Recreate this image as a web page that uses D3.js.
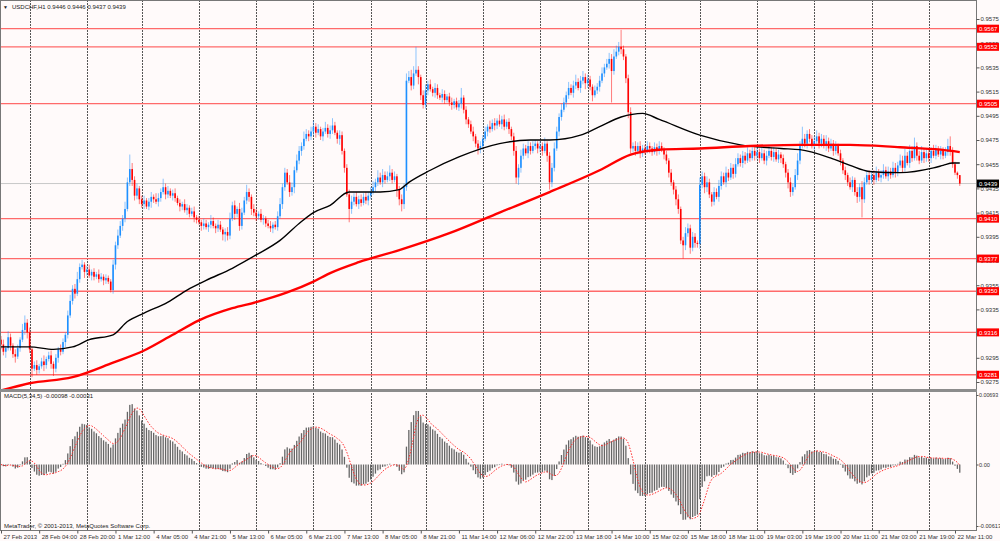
<!DOCTYPE html>
<html>
<head>
<meta charset="utf-8">
<script src="https://cdn.jsdelivr.net/npm/d3@7"></script>
<style>
body { margin: 0; background: #fff; }
text { font-family: "Liberation Sans", Arial, sans-serif; }
</style>
</head>
<body>
<svg id="chart" width="1000" height="541"></svg>
<script>
// USDCHF H1, closes in pips above 0.9000, one row per trading day
const closes = [
  306,300,303,312,305,298,296,303,310,318,324,316,                                  // 27 Feb
  302,286,289,285,288,292,289,294,297,290,286,295,302,300,308,314,330,342,352,348,360,370,372,366, // 28 Feb
  368,363,366,362,364,360,362,359,361,358,351,372,388,396,404,410,418,440,451,442,429,435,426,     // 1 Mar
  422,425,420,424,428,426,424,427,432,436,430,433,429,431,427,423,420,422,417,419,414,416,411,409, // 4 Mar
  407,404,406,403,405,408,404,402,405,401,397,399,396,410,421,414,418,404,415,425,432,428,418,415, // 5 Mar
  412,414,409,410,406,404,402,405,403,412,422,436,448,440,432,436,450,458,466,470,476,480,478,482, // 6 Mar
  486,481,484,478,482,485,480,483,487,481,476,479,466,452,430,418,424,428,422,426,423,428,425,429, // 7 Mar
  432,436,440,444,440,446,442,445,448,442,445,434,426,422,436,524,527,520,530,533,527,512,504,     // 8 Mar
  516,521,517,514,518,512,510,513,508,511,506,504,507,502,505,510,500,492,488,482,478,472,468,470, // 11 Mar
  476,482,486,484,489,487,491,488,492,486,490,484,478,466,444,452,462,468,464,470,466,470,472,468, // 12 Mar
  470,466,472,462,440,452,468,482,494,500,506,512,518,514,520,523,518,524,527,522,                 // 13 Mar
  525,519,512,516,519,524,530,535,538,542,532,544,548,552,550,544,526,498,468,470,466,470,464,468, // 14 Mar
  466,470,468,465,469,466,470,467,463,458,448,440,434,426,418,392,388,398,402,386,395,390,389,     // 15 Mar
  438,445,436,440,430,424,432,428,437,445,440,448,444,452,447,455,460,456,462,458,464,460,466,462, // 18 Mar
  465,460,464,458,462,466,461,465,459,463,460,455,448,440,432,436,446,458,470,476,472,480,476,470, // 19 Mar
  474,478,472,476,470,474,468,472,466,470,464,458,450,446,440,436,442,432,428,436,426,440,446,442, // 20 Mar
  446,442,448,444,446,450,445,449,446,452,448,454,458,452,462,456,466,460,470,462,458,465,460,464, // 21 Mar
  460,466,462,467,463,466,462,465,470,466,455,448,446,439                                          // 22 Mar
];
const firstOpen = 310;

// wick length above / below the candle body, pips
const wickUp = [
  3,4,2,5,3,2,4,3,2,5,6,3,
  4,2,3,4,2,3,5,2,3,4,2,3,2,4,3,2,4,5,3,4,6,3,4,2,
  3,4,2,3,2,4,3,2,3,2,2,4,3,5,4,3,6,4,12,5,3,4,2,
  3,4,2,3,4,2,5,4,3,7,3,4,2,3,4,2,3,2,4,3,2,3,4,2,
  3,2,4,3,2,5,3,2,4,3,2,3,4,5,3,4,2,5,4,3,6,3,2,4,
  3,2,4,3,2,3,4,2,3,4,5,3,4,3,6,4,3,5,4,3,6,4,3,4,
  5,3,4,2,3,5,3,4,6,3,2,4,3,2,3,4,5,3,4,3,4,3,4,3,
  4,5,3,6,4,5,3,4,6,3,4,2,3,4,3,6,5,6,6,19,3,2,4,
  5,3,4,2,4,3,2,4,3,2,3,4,2,3,3,8,2,3,2,3,4,2,3,4,
  3,4,2,5,3,4,2,5,3,4,2,3,2,3,4,3,5,4,3,4,3,4,3,2,
  4,3,5,2,3,4,5,4,3,5,4,3,5,3,4,6,3,4,5,3,
  4,3,2,4,3,4,5,3,4,5,4,6,5,4,14,3,2,3,4,3,4,3,4,3,
  3,4,3,2,4,3,4,3,2,3,2,3,2,3,4,2,3,5,4,3,4,3,2,
  6,4,3,5,3,2,4,3,5,4,3,5,3,4,3,5,4,3,4,3,5,3,4,3,
  4,3,5,3,4,5,3,4,3,4,2,3,2,3,4,3,5,6,4,10,4,3,4,3,
  4,5,3,4,3,5,3,4,3,4,2,3,2,3,2,4,3,2,4,3,5,4,3,4,
  3,4,5,3,4,5,3,4,3,5,4,3,5,4,6,3,5,4,7,3,4,5,3,4,
  4,3,5,4,3,4,3,4,6,8,3,2,1,0
];
const wickDn = [
  4,3,5,2,4,3,5,2,3,2,4,5,
  3,7,2,4,3,2,5,3,2,4,6,3,4,3,2,4,3,2,3,4,2,3,2,5,
  3,2,4,3,2,3,2,4,3,2,2,3,4,3,2,4,3,2,3,5,4,3,4,
  3,4,2,3,5,3,2,4,3,2,4,3,2,4,3,2,4,3,2,4,3,2,4,3,
  2,4,3,2,4,3,2,4,3,2,5,6,4,3,2,5,3,4,3,2,3,4,5,3,
  4,3,2,4,3,2,3,4,2,3,2,4,3,2,4,3,5,2,3,4,3,2,4,3,
  3,4,2,3,4,2,3,4,3,2,4,5,3,4,2,11,4,3,2,4,3,2,3,4,
  3,2,4,3,2,4,3,2,4,3,2,6,5,6,4,3,2,4,3,2,6,4,3,
  3,4,2,3,4,3,2,4,3,2,3,4,3,2,3,4,3,4,3,2,4,3,5,4,
  3,2,4,3,2,4,3,2,4,3,2,4,3,4,5,6,4,3,2,4,3,2,3,4,
  3,4,2,5,6,4,3,2,4,3,2,4,3,2,4,3,2,4,3,5,
  4,3,5,2,3,4,2,3,2,4,26,3,2,3,4,3,4,5,4,3,4,3,4,3,
  3,2,4,3,2,4,3,2,4,3,4,3,4,5,4,3,11,4,3,5,3,4,3,
  4,3,5,4,3,4,3,2,4,3,2,4,3,2,4,3,2,3,4,3,2,3,2,4,
  3,4,2,3,4,2,3,4,2,3,4,3,4,5,4,3,2,4,3,2,3,4,3,2,
  3,2,4,3,2,4,3,2,4,3,2,4,3,4,3,2,4,3,5,4,15,3,2,4,
  3,4,2,3,4,3,2,4,3,2,4,3,2,4,3,2,4,3,2,4,3,2,4,3,
  3,4,2,3,2,4,3,2,3,4,3,2,3,2
];

// moving averages: [bar, pips]
const maBlack = [[0,304],[12,304],[22,302],[30,304],[37,310],[47,314],[53,325],[60,332],[70,341],
  [78,351],[86,359],[97,369],[107,380],[117,392],[125,406],[131,415],[138,421],[146,432],[159,432],
  [167,434],[171,440],[180,450],[192,461],[209,472],[222,475],[230,475],[243,479],[251,486],[260,494],
  [269,497],[276,492],[293,479],[310,471],[327,468],[335,467],[348,460],[356,454],[364,449],[377,448],
  [391,452],[395,454],[399,456],[402,456]];
const maRed = [[0,268],[12,274],[30,279],[47,291],[60,301],[72,314],[83,326],[97,336],[107,341],
  [120,349],[131,358],[138,365],[150,374],[167,384],[188,398],[209,415],[230,432],[251,450],[264,463],
  [276,467],[293,468],[314,470],[335,471],[356,471],[377,469],[394,467],[402,465]];

const priceTicks = [0.9575,0.9555,0.9535,0.9515,0.9495,0.9475,0.9455,0.9435,0.9415,0.9395,0.9375,0.9355,0.9335,0.9315,0.9295,0.9275];
const levels = [0.9567,0.9552,0.9505,0.9410,0.9377,0.9350,0.9316,0.9281];
const lastPrice = 0.9439;
const timeLabels = ["27 Feb 2013","28 Feb 04:00","28 Feb 20:00","1 Mar 12:00","4 Mar 05:00","4 Mar 21:00",
  "5 Mar 13:00","6 Mar 05:00","6 Mar 21:00","7 Mar 13:00","8 Mar 05:00","8 Mar 21:00","11 Mar 14:00",
  "12 Mar 06:00","12 Mar 22:00","13 Mar 18:00","14 Mar 10:00","15 Mar 02:00","15 Mar 18:00","18 Mar 11:00",
  "19 Mar 03:00","19 Mar 19:00","20 Mar 11:00","21 Mar 03:00","21 Mar 19:00","22 Mar 11:00"];
const dayStarts = [12,36,59,83,107,131,155,178,202,226,246,270,293,317,341,365,389];
const macdTicks = [0.00693, 0, -0.00613];
const macdTickText = ["0.00693","0.00","-0.00613"];

const svg = d3.select("#chart");
const W = 1000, right = 976, mainBottom = 389, macdTop = 392, macdBottom = 530;
const font = 6;

const x = d3.scaleLinear().domain([0, 400]).range([1, 955]);
const y = d3.scaleLinear().domain([0.9275, 0.9575]).range([382, 19]);
const ym = d3.scaleLinear().domain([-0.00613, 0.00693]).range([526, 395]);
const px = p => 0.9 + p / 10000;

const bars = closes.map((c, i) => {
  const o = i ? closes[i-1] : firstOpen;
  return { i, o: px(o), c: px(c), h: px(Math.max(o, c) + wickUp[i]), l: px(Math.min(o, c) - wickDn[i]) };
});

// MACD(5,34,5): main = EMA5 - EMA34, signal = SMA5 of main
function ema(arr, n) {
  const k = 2 / (n + 1);
  let e = arr[0];
  return arr.map((v, i) => i ? (e = v * k + e * (1 - k)) : e);
}
const cl = bars.map(b => b.c);
const e5 = ema(cl, 5), e34 = ema(cl, 34);
const macd = cl.map((v, i) => e5[i] - e34[i]);
const signal = macd.map((v, i) => d3.mean(macd.slice(Math.max(0, i - 4), i + 1)));

svg.append("rect").attr("width", W).attr("height", 541).attr("fill", "#fffafa");

const defs = svg.append("defs");
defs.append("clipPath").attr("id", "cm").append("rect").attr("x", 0).attr("y", 0).attr("width", right).attr("height", mainBottom);
defs.append("clipPath").attr("id", "cd").append("rect").attr("x", 0).attr("y", macdTop).attr("width", right).attr("height", macdBottom - macdTop);

// day grid
svg.append("g").selectAll("line").data(dayStarts).enter().append("line")
  .attr("x1", d => Math.round(x(d)) + 0.5).attr("x2", d => Math.round(x(d)) + 0.5)
  .attr("y1", 0).attr("y2", macdBottom)
  .attr("stroke", "#555").attr("stroke-width", 1).attr("stroke-dasharray", "2,1");

const main = svg.append("g").attr("clip-path", "url(#cm)");

main.selectAll("line.lvl").data(levels).enter().append("line").attr("class", "lvl")
  .attr("x1", 0).attr("x2", right).attr("y1", d => y(d)).attr("y2", d => y(d))
  .attr("stroke", "#ff6a6a").attr("stroke-width", 1.3);

main.append("line").attr("x1", 0).attr("x2", right).attr("y1", y(lastPrice)).attr("y2", y(lastPrice))
  .attr("stroke", "#c8c8c8").attr("stroke-width", 1);

const cg = main.append("g");
cg.selectAll("line").data(bars).enter().append("line")
  .attr("x1", d => x(d.i)).attr("x2", d => x(d.i))
  .attr("y1", d => y(d.h)).attr("y2", d => y(d.l))
  .attr("stroke", d => d.c >= d.o ? "#1e90ff" : "#ff0000")
  .attr("stroke-opacity", 0.5).attr("stroke-width", 1);
cg.selectAll("rect").data(bars).enter().append("rect")
  .attr("x", d => x(d.i) - 0.8).attr("width", 1.6)
  .attr("y", d => y(Math.max(d.o, d.c)))
  .attr("height", d => Math.max(0.8, Math.abs(y(d.o) - y(d.c))))
  .attr("fill", d => d.c >= d.o ? "#1e90ff" : "#ff0000");

const maLine = d3.line().x(d => x(d[0])).y(d => y(px(d[1]))).curve(d3.curveMonotoneX);
main.append("path").attr("d", maLine(maBlack)).attr("fill", "none").attr("stroke", "#000").attr("stroke-width", 1.4);
main.append("path").attr("d", maLine(maRed)).attr("fill", "none").attr("stroke", "#ff0000").attr("stroke-width", 2.4);

// MACD panel
const mg = svg.append("g").attr("clip-path", "url(#cd)");
mg.selectAll("rect").data(macd).enter().append("rect")
  .attr("x", (d, i) => x(i) - 0.65).attr("width", 1.3)
  .attr("y", d => Math.min(ym(d), ym(0))).attr("height", d => Math.abs(ym(d) - ym(0)))
  .attr("fill", "#666");
mg.append("path")
  .attr("d", d3.line().x((d, i) => x(i)).y(d => ym(d))(signal))
  .attr("fill", "none").attr("stroke", "#ff2a2a").attr("stroke-width", 1).attr("stroke-dasharray", "1.5,1.5");

// frame and panel separator
svg.append("rect").attr("x", 0.5).attr("y", 0.5).attr("width", right).attr("height", macdBottom)
  .attr("fill", "none").attr("stroke", "#777");
svg.append("rect").attr("x", 0).attr("y", mainBottom).attr("width", right + 1).attr("height", macdTop - mainBottom).attr("fill", "#8c8c8c");

// price axis
const ya = svg.append("g").attr("transform", `translate(${right + 0.5},0)`)
  .call(d3.axisRight(y).tickValues(priceTicks).tickFormat(d3.format(".4f")).tickSize(3).tickPadding(1));
ya.select(".domain").remove();
ya.selectAll("line").attr("stroke", "#555");
ya.selectAll("text").attr("font-size", font).attr("fill", "#333").attr("font-family", "Liberation Sans, Arial");

// MACD axis, squeezed to fit the right margin
const ma = svg.append("g").attr("transform", `translate(${right + 0.5},0)`)
  .call(d3.axisRight(ym).tickValues(macdTicks).tickFormat((d, i) => macdTickText[i]).tickSize(2).tickPadding(0.5));
ma.select(".domain").remove();
ma.selectAll("line").attr("stroke", "#555");
ma.selectAll("text").attr("font-size", 5.6).attr("fill", "#333").attr("font-family", "Liberation Sans, Arial")
  .attr("textLength", (d, i) => macdTickText[i].length > 4 ? macdTickText[i].length * 2.75 : null)
  .attr("lengthAdjust", "spacingAndGlyphs");

// time axis
const xa = svg.append("g").attr("transform", `translate(0,${macdBottom + 0.5})`)
  .call(d3.axisBottom(x).tickValues(timeLabels.map((t, k) => k * 16)).tickFormat((d, k) => timeLabels[k]).tickSize(3).tickPadding(1));
xa.select(".domain").remove();
xa.selectAll("line").attr("stroke", "#555");
xa.selectAll("text").attr("font-size", font).attr("fill", "#333").attr("text-anchor", "start").attr("x", 2)
  .attr("font-family", "Liberation Sans, Arial");

// price level boxes
const box = svg.append("g");
const boxes = levels.map(v => ({ v, fill: "#ff0000" })).concat([{ v: lastPrice, fill: "#000" }]);
box.selectAll("rect").data(boxes).enter().append("rect")
  .attr("x", right + 1).attr("width", 22).attr("y", d => y(d.v) - 4).attr("height", 8).attr("fill", d => d.fill);
box.selectAll("text").data(boxes).enter().append("text")
  .attr("x", right + 3).attr("y", d => y(d.v) + 2.2).attr("font-size", font).attr("fill", "#fff")
  .text(d => d3.format(".4f")(d.v));

// captions
svg.append("text").attr("x", 3).attr("y", 8.5).attr("font-size", 5).attr("fill", "#222").text("\u25BC");
svg.append("text").attr("x", 12).attr("y", 9).attr("font-size", font).attr("fill", "#222")
  .text("USDCHF,H1  0.9446 0.9446 0.9437 0.9439");
svg.append("text").attr("x", 4).attr("y", 398).attr("font-size", font).attr("fill", "#222")
  .text("MACD(5,34,5) -0.00098 -0.00031");
svg.append("text").attr("x", 4).attr("y", 528).attr("font-size", font).attr("fill", "#222")
  .text("MetaTrader, \u00A9 2001-2013, MetaQuotes Software Corp.");
</script>
</body>
</html>
